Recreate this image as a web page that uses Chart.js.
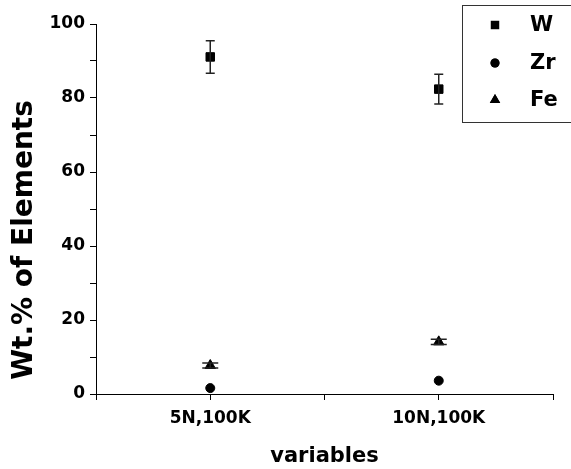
<!DOCTYPE html>
<html>
<head>
<meta charset="utf-8">
<script src="https://cdn.jsdelivr.net/npm/chart.js@4/dist/chart.umd.min.js"></script>
<style>
  html, body { margin: 0; padding: 0; background: #fff; }
  #wrap { width: 571px; height: 469px; }
</style>
</head>
<body>
<div id="wrap"><canvas id="chart1"></canvas></div>
<script>
// categories sit at x = 1 and x = 3 on a 0..4 axis
var categories = ['5N,100K', '10N,100K'];
var xPos = [1, 3];

var wValues = [91.1, 82.4];
var wErr = [4.4, 4.0];
var zrValues = [1.6, 3.6];
var feValues = [7.7, 14.1];
var feErr = [0.7, 0.7];

var yTicks = [0, 20, 40, 60, 80, 100];

var FONT = "'DejaVu Sans', sans-serif";

function pts(vals) {
    return vals.map(function(v, i){ return {x: xPos[i], y: v}; });
}

var errorBars = {
    id: 'errorBars',
    afterDatasetsDraw: function(chart) {
        var ctx = chart.ctx;
        var xs = chart.scales.x, ys = chart.scales.y;
        chart.data.datasets.forEach(function(ds) {
            if (!ds.err) return;
            ctx.save();
            ctx.strokeStyle = '#222';
            ctx.lineWidth = 1.5;
            ds.data.forEach(function(p, i) {
                var x = xs.getPixelForValue(p.x);
                var top = ys.getPixelForValue(p.y + ds.err[i]);
                var bot = ys.getPixelForValue(p.y - ds.err[i]);
                var c = ds.capWidth / 2;
                ctx.beginPath();
                ctx.moveTo(x, top); ctx.lineTo(x, bot);
                ctx.moveTo(x - c, top); ctx.lineTo(x + c, top);
                ctx.moveTo(x - c, bot); ctx.lineTo(x + c, bot);
                ctx.stroke();
            });
            ctx.restore();
        });
    }
};

var extras = {
    id: 'extras',
    afterDraw: function(chart) {
        var ctx = chart.ctx;
        ctx.save();
        // y axis title
        ctx.fillStyle = '#000';
        ctx.font = 'bold 28px ' + FONT;
        ctx.textAlign = 'center';
        ctx.textBaseline = 'middle';
        ctx.translate(25, 240);
        ctx.rotate(-Math.PI / 2);
        ctx.fillText('Wt.% of Elements', 0, 0);
        ctx.restore();

        // legend box
        ctx.save();
        ctx.fillStyle = '#fff';
        ctx.fillRect(462, 5, 120, 117);
        ctx.strokeStyle = '#333';
        ctx.lineWidth = 1;
        ctx.strokeRect(462.5, 5.5, 120, 117);
        var rows = [25, 63, 100];
        ctx.font = 'bold 21px ' + FONT;
        ctx.textAlign = 'left';
        ctx.textBaseline = 'middle';
        chart.data.datasets.forEach(function(ds, i) {
            Chart.helpers.drawPoint(ctx, {
                pointStyle: ds.pointStyle,
                radius: ds.pointRadius,
                borderWidth: 0
            }, 495, rows[i]);
            ctx.fillStyle = '#000';
            ctx.fill();
            ctx.fillText(ds.label, 530, rows[i] + 1);
        });
        ctx.restore();
    }
};

var ctx = document.getElementById('chart1').getContext('2d');
var chart = new Chart(ctx, {
    type: 'scatter',
    data: {
        datasets: [{
            label: 'W',
            data: pts(wValues),
            err: wErr,
            capWidth: 9,
            pointStyle: 'rect',
            pointRadius: 6,
            backgroundColor: '#000',
            borderColor: '#000'
        }, {
            label: 'Zr',
            data: pts(zrValues),
            pointStyle: 'circle',
            pointRadius: 4.5,
            backgroundColor: '#000',
            borderColor: '#000'
        }, {
            label: 'Fe',
            data: pts(feValues),
            err: feErr,
            capWidth: 16,
            pointStyle: 'triangle',
            pointRadius: 6,
            backgroundColor: '#000',
            borderColor: '#000'
        }]
    },
    options: {
        responsive: true,
        maintainAspectRatio: false,
        animation: false,
        layout: { padding: { top: 24, right: 18, left: 0, bottom: 0 } },
        plugins: {
            legend: { display: false },
            tooltip: { enabled: false }
        },
        scales: {
            x: {
                type: 'linear',
                min: 0,
                max: 4,
                afterFit: function(s){ s.height = 75; },
                ticks: {
                    stepSize: 1,
                    color: '#000',
                    padding: 8,
                    font: { family: FONT, size: 17, weight: 'bold' },
                    callback: function(v){
                        var i = xPos.indexOf(v);
                        return i >= 0 ? categories[i] : '';
                    }
                },
                grid: { drawOnChartArea: false, color: '#000', tickLength: 6 },
                border: { color: '#000', width: 1 },
                title: {
                    display: true,
                    text: 'variables',
                    color: '#000',
                    padding: 0,
                    font: { family: FONT, size: 21, weight: 'bold' }
                }
            },
            y: {
                min: 0,
                max: 100,
                afterFit: function(s){ s.width = 96; },
                ticks: {
                    stepSize: 10,
                    color: '#000',
                    padding: 5,
                    font: { family: FONT, size: 17, weight: 'bold' },
                    callback: function(v){ return yTicks.indexOf(v) >= 0 ? v : ''; }
                },
                grid: { drawOnChartArea: false, color: '#000', tickLength: 6 },
                border: { color: '#000', width: 1 }
            }
        }
    },
    plugins: [errorBars, extras]
});
</script>
</body>
</html>
